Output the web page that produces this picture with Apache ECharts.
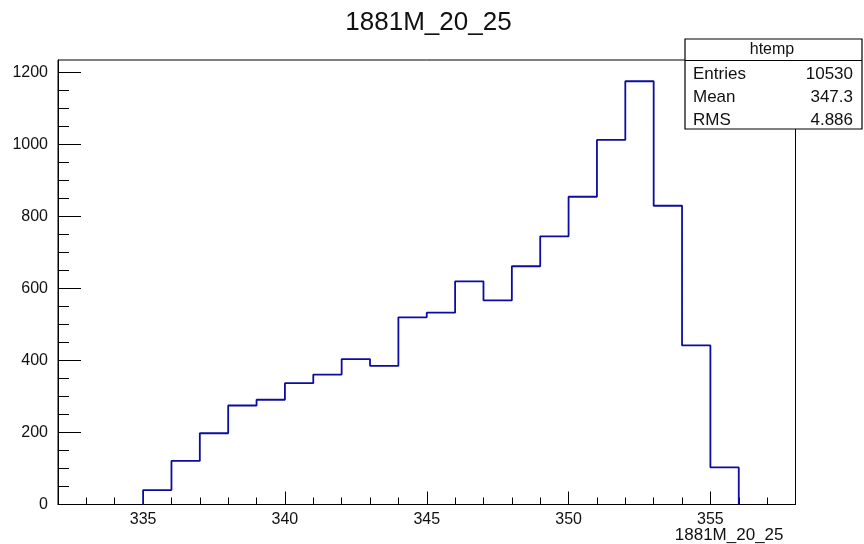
<!DOCTYPE html>
<html>
<head>
<meta charset="utf-8">
<script src="https://cdn.jsdelivr.net/npm/echarts@6/dist/echarts.min.js"></script>
<style>
  html, body { margin: 0; padding: 0; background: #fff; }
  #main { width: 864px; height: 544px; }
</style>
</head>
<body>
<div id="main"></div>
<script>
// histogram htemp: 1 unit bins starting at 335
const binStart = 335
const binWidth = 1
const counts = [40, 121, 198, 275, 291, 337, 361, 404, 385, 520, 533, 620, 567, 662, 745, 855, 1013, 1176, 830, 442, 103]

const xMajor = [335, 340, 345, 350, 355]
const yMajor = [0, 200, 400, 600, 800, 1000, 1200]
const statsRows = [['Entries', '10530'], ['Mean', '347.3'], ['RMS', '4.886']]

const xMin = 332, xMax = 358
const yMax = 1235

// minor ticks: every 1 on x, every 50 on y
const xMinor = []
for (let v = xMin + 1; v < xMax; v++) if (xMajor.indexOf(v) < 0) xMinor.push(v)
const yMinor = []
for (let v = 50; v < yMax; v += 50) if (yMajor.indexOf(v) < 0) yMinor.push(v)

// outline of the histogram as step points
const steps = [[binStart, 0]]
counts.forEach((c, i) => steps.push([binStart + i * binWidth, c]))
steps.push([binStart + counts.length * binWidth, counts[counts.length - 1]])
steps.push([binStart + counts.length * binWidth, 0])

const font = 'Liberation Sans'
const ink = '#111'
const plain = v => String(v)

const option = {
  animation: false,
  textStyle: { fontFamily: font },
  grid: {
    left: 58, right: 68.5, top: 60, bottom: 39.5,
    show: true, borderColor: '#000', borderWidth: 1
  },
  xAxis: [
    {
      type: 'value', min: xMin, max: xMax, position: 'bottom',
      axisLine: { lineStyle: { color: '#000', width: 1 } },
      axisTick: { inside: true, length: 13, customValues: xMajor, lineStyle: { color: '#000' } },
      axisLabel: { customValues: xMajor, formatter: plain, color: ink, fontSize: 16, fontFamily: font, margin: 7 },
      splitLine: { show: false }
    },
    {
      type: 'value', min: xMin, max: xMax, position: 'bottom',
      axisLine: { show: false },
      axisTick: { inside: true, length: 7, customValues: xMinor, lineStyle: { color: '#000' } },
      axisLabel: { show: false },
      splitLine: { show: false }
    }
  ],
  yAxis: [
    {
      type: 'value', min: 0, max: yMax, position: 'left',
      axisLine: { show: true, lineStyle: { color: '#000', width: 1 } },
      axisTick: { show: true, inside: true, length: 23, customValues: yMajor, lineStyle: { color: '#000' } },
      axisLabel: { customValues: yMajor, formatter: plain, color: ink, fontSize: 16, fontFamily: font, margin: 10 },
      splitLine: { show: false }
    },
    {
      type: 'value', min: 0, max: yMax, position: 'left',
      axisLine: { show: false },
      axisTick: { show: true, inside: true, length: 11, customValues: yMinor, lineStyle: { color: '#000' } },
      axisLabel: { show: false },
      splitLine: { show: false }
    }
  ],
  series: [
    {
      name: 'htemp',
      type: 'line',
      step: 'end',
      showSymbol: false,
      data: steps,
      lineStyle: { color: '#0c0ca0', width: 1.8 },
      z: 5
    }
  ],
  graphic: [
    {
      type: 'text', x: 428.5, y: 23, z: 10,
      style: { text: '1881M_20_25', font: '26px "Liberation Sans"', fill: ink, align: 'center', verticalAlign: 'middle' }
    },
    {
      type: 'text', x: 783.5, y: 535, z: 10,
      style: { text: '1881M_20_25', font: '17px "Liberation Sans"', fill: ink, align: 'right', verticalAlign: 'middle' }
    },
    {
      type: 'rect', z: 20,
      shape: { x: 685, y: 39, width: 177, height: 90 },
      style: { fill: '#fff', stroke: '#000', lineWidth: 1.2 }
    },
    {
      type: 'line', z: 21,
      shape: { x1: 685, y1: 60.5, x2: 862, y2: 60.5 },
      style: { stroke: '#000', lineWidth: 1.2 }
    },
    {
      type: 'text', x: 772, y: 50, z: 21,
      style: { text: 'htemp', font: '16px "Liberation Sans"', fill: ink, align: 'center', verticalAlign: 'middle' }
    },
    ...statsRows.flatMap((r, i) => [
      {
        type: 'text', x: 693, y: 74 + i * 23, z: 21,
        style: { text: r[0], font: '17px "Liberation Sans"', fill: ink, align: 'left', verticalAlign: 'middle' }
      },
      {
        type: 'text', x: 853, y: 74 + i * 23, z: 21,
        style: { text: r[1], font: '17px "Liberation Sans"', fill: ink, align: 'right', verticalAlign: 'middle' }
      }
    ])
  ]
}

echarts.init(document.getElementById('main')).setOption(option)
</script>
</body>
</html>
